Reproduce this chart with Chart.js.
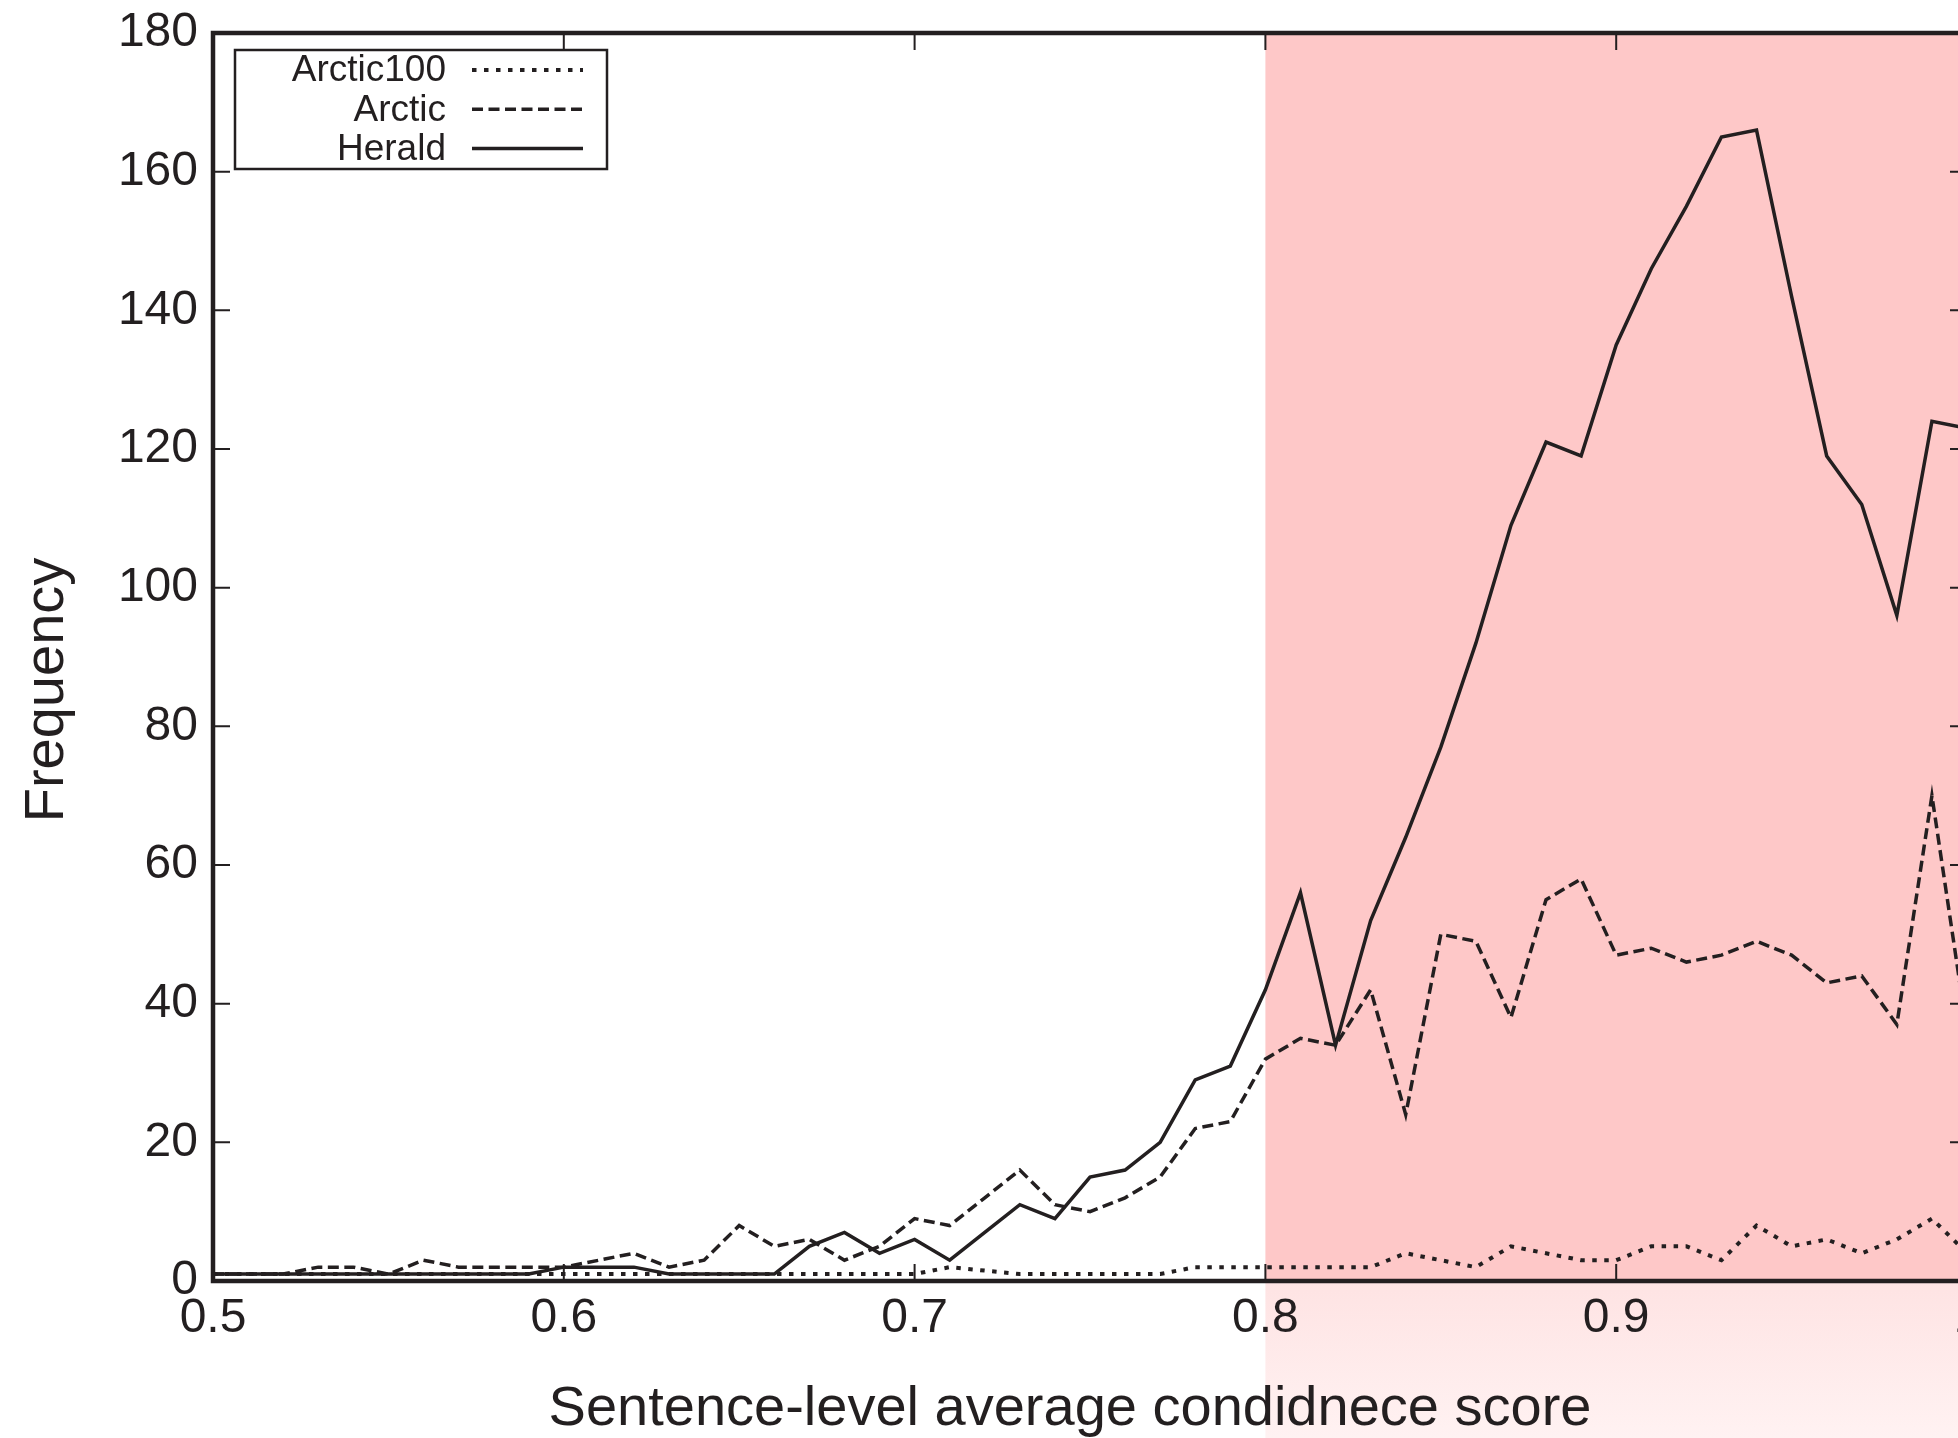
<!DOCTYPE html>
<html>
<head>
<meta charset="utf-8">
<script src="https://cdn.jsdelivr.net/npm/chart.js@4.4.1/dist/chart.umd.min.js"></script>
<style>
  html, body { margin: 0; padding: 0; background: #fff; overflow: hidden; }
  #wrap { width: 1958px; height: 1438px; overflow: hidden; }
  canvas { display: block; }
</style>
</head>
<body>
<div id="wrap"><canvas id="myChart" width="1982" height="1438"></canvas></div>
<script>
const ctx = document.querySelector("#myChart").getContext("2d");

const scores = [
  0.50, 0.51, 0.52, 0.53, 0.54, 0.55, 0.56, 0.57, 0.58, 0.59,
  0.60, 0.61, 0.62, 0.63, 0.64, 0.65, 0.66, 0.67, 0.68, 0.69,
  0.70, 0.71, 0.72, 0.73, 0.74, 0.75, 0.76, 0.77, 0.78, 0.79,
  0.80, 0.81, 0.82, 0.83, 0.84, 0.85, 0.86, 0.87, 0.88, 0.89,
  0.90, 0.91, 0.92, 0.93, 0.94, 0.95, 0.96, 0.97, 0.98, 0.99, 1.00,
];

const arctic100 = [
  1, 1, 1, 1, 1, 1, 1, 1, 1, 1,
  1, 1, 1, 1, 1, 1, 1, 1, 1, 1,
  1, 2, 1.5, 1, 1, 1, 1, 1, 2, 2,
  2, 2, 2, 2, 4, 3, 2, 5, 4, 3,
  3, 5, 5, 3, 8, 5, 6, 4, 6, 9, 4,
];

const arctic = [
  1, 1, 1, 2, 2, 1, 3, 2, 2, 2,
  2, 3, 4, 2, 3, 8, 5, 6, 3, 5,
  9, 8, 12, 16, 11, 10, 12, 15, 22, 23,
  32, 35, 34, 42, 24, 50, 49, 38, 55, 58,
  47, 48, 46, 47, 49, 47, 43, 44, 37, 70, 36,
];

const herald = [
  1, 1, 1, 1, 1, 1, 1, 1, 1, 1,
  2, 2, 2, 1, 1, 1, 1, 5, 7, 4,
  6, 3, 7, 11, 9, 15, 16, 20, 29, 31,
  42, 56, 34, 52, 64, 77, 92, 109, 121, 119,
  135, 146, 155, 165, 166, 142, 119, 112, 96, 124, 123,
];

const xTicks = [0.5, 0.6, 0.7, 0.8, 0.9, 1.0];
const yTicks = [0, 20, 40, 60, 80, 100, 120, 140, 160, 180];
const highlightFrom = 0.8;

const xTitle = "Sentence-level average condidnece score";
const yTitle = "Frequency";

const ink = "#231f20";
const family = "'Liberation Sans', Arial, Helvetica, sans-serif";

const toPoints = (ys) => ys.map((y, i) => ({ x: scores[i], y: y }));

// pink band from 0.8 on, axes box with inward ticks
const frame = {
  id: "frame",
  beforeDraw(chart) {
    const { ctx, chartArea, scales: { x }, width, height } = chart;
    const x0 = x.getPixelForValue(highlightFrom);
    ctx.save();
    ctx.fillStyle = "#fec8c8";
    ctx.fillRect(x0, chartArea.top, width - x0, chartArea.bottom - chartArea.top);
    let grd = ctx.createLinearGradient(0, chartArea.bottom, 0, height);
    grd.addColorStop(0, "#fee3e3");
    grd.addColorStop(1, "#fff2f2");
    ctx.fillStyle = grd;
    ctx.fillRect(x0, chartArea.bottom, width - x0, height - chartArea.bottom);
    ctx.restore();
  },
  afterDatasetsDraw(chart) {
    const { ctx, chartArea: a, scales: { x, y } } = chart;
    const right = x.getPixelForValue(1.0);
    ctx.save();
    ctx.strokeStyle = ink;
    ctx.lineWidth = 2;
    ctx.beginPath();
    xTicks.forEach((v) => {
      const px = x.getPixelForValue(v);
      ctx.moveTo(px, a.bottom);
      ctx.lineTo(px, a.bottom - 17);
      ctx.moveTo(px, a.top);
      ctx.lineTo(px, a.top + 17);
    });
    yTicks.forEach((v) => {
      const py = y.getPixelForValue(v);
      ctx.moveTo(a.left, py);
      ctx.lineTo(a.left + 17, py);
      ctx.moveTo(right, py);
      ctx.lineTo(right - 17, py);
    });
    ctx.stroke();
    ctx.lineWidth = 4.5;
    ctx.strokeRect(a.left, a.top, right - a.left, a.bottom - a.top);
    ctx.restore();
  },
};

// axis titles and the boxed legend (text right, line sample left)
const labels = {
  id: "labels",
  afterDraw(chart) {
    const { ctx } = chart;
    ctx.save();
    ctx.fillStyle = ink;
    ctx.font = `56px ${family}`;
    ctx.textAlign = "center";
    ctx.textBaseline = "alphabetic";
    ctx.fillText(xTitle, 1070, 1425);
    ctx.save();
    ctx.translate(63, 690);
    ctx.rotate(-Math.PI / 2);
    ctx.fillText(yTitle, 0, 0);
    ctx.restore();

    ctx.lineWidth = 2.5;
    ctx.strokeStyle = ink;
    ctx.strokeRect(235, 50, 372, 119);
    ctx.font = `37px ${family}`;
    ctx.textAlign = "right";
    ctx.textBaseline = "middle";
    chart.data.datasets.forEach((ds, i) => {
      const cy = 70 + i * 39.3;
      ctx.fillText(ds.label, 446, cy + 1);
      ctx.beginPath();
      ctx.setLineDash(ds.borderDash || []);
      ctx.lineWidth = ds.borderWidth;
      ctx.moveTo(472, cy);
      ctx.lineTo(583, cy);
      ctx.stroke();
    });
    ctx.restore();
  },
};

const data = {
  datasets: [
    {
      label: "Arctic100",
      data: toPoints(arctic100),
      borderColor: ink,
      borderWidth: 4,
      borderDash: [4.5, 7.5],
    },
    {
      label: "Arctic",
      data: toPoints(arctic),
      borderColor: ink,
      borderWidth: 3.5,
      borderDash: [11, 5.5],
    },
    {
      label: "Herald",
      data: toPoints(herald),
      borderColor: ink,
      borderWidth: 3.5,
    },
  ],
};

const config = {
  type: "line",
  data: data,
  plugins: [frame, labels],
  options: {
    responsive: false,
    animation: false,
    layout: { padding: { top: 33, right: 15, left: 0, bottom: 0 } },
    elements: { point: { radius: 0 }, line: { tension: 0, borderJoinStyle: "miter" } },
    plugins: { legend: { display: false }, tooltip: { enabled: false } },
    scales: {
      x: {
        type: "linear",
        min: 0.5,
        max: 1.0,
        afterFit: (s) => {
          s.height = 157;
          s.paddingLeft = 0;
          s.paddingRight = 0;
        },
        grid: { display: false, drawTicks: false },
        border: { display: false },
        afterBuildTicks: (s) => { s.ticks = xTicks.map((v) => ({ value: v })); },
        ticks: {
          padding: 9,
          maxRotation: 0,
          color: ink,
          font: { family: family, size: 48 },
          callback: (v) => String(Math.round(v * 10) / 10),
        },
      },
      y: {
        min: 0,
        max: 180,
        afterFit: (s) => {
          s.width = 213;
          s.paddingTop = 0;
          s.paddingBottom = 0;
        },
        grid: { display: false, drawTicks: false },
        border: { display: false },
        afterBuildTicks: (s) => { s.ticks = yTicks.map((v) => ({ value: v })); },
        ticks: {
          padding: 15,
          color: ink,
          font: { family: family, size: 48 },
        },
      },
    },
  },
};

const myChart = new Chart(ctx, config);
</script>
</body>
</html>
